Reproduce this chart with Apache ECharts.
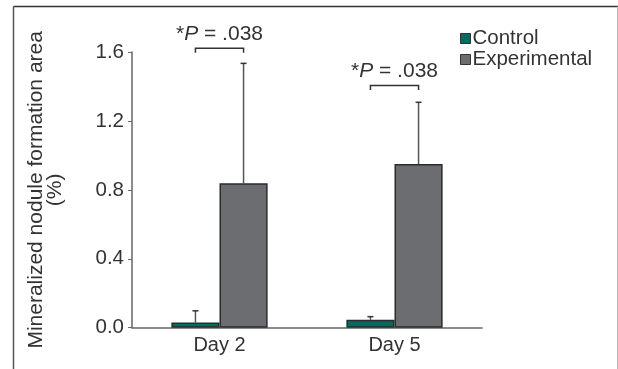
<!DOCTYPE html>
<html>
<head>
<meta charset="utf-8">
<script src="https://cdn.jsdelivr.net/npm/echarts@6/dist/echarts.min.js"></script>
<style>html,body{margin:0;padding:0;background:#fff}#c{width:618px;height:369px}</style>
</head>
<body>
<div id="c"></div>
<script>
const categories = ['Day 2', 'Day 5'];
const seriesNames = ['Control', 'Experimental'];
const controlValues = [0.03, 0.046];
const controlErrors = [0.068, 0.018];
const experimentalValues = [0.838, 0.950];
const experimentalErrors = [0.696, 0.358];
const pLabels = ['*P = .038', '*P = .038'];
const bracketLevels = [1.622, 1.405];
const yTicks = [0, 0.4, 0.8, 1.2, 1.6];

const FONT = '"Liberation Sans", Arial, sans-serif';
const TEXT = '#333333';
const GAP = 0.45; // barCategoryGap

function barHalf(api) {
  const band = api.size([1, 0])[0];
  return band * (1 - GAP) / 2; // width of one bar
}

function errorRender(sign) {
  return function (params, api) {
    const cat = api.value(0), v = api.value(1), e = api.value(2);
    const bw = barHalf(api);
    const c = api.coord([cat, 0]);
    const x = c[0] + sign * bw / 2;
    const yTop = api.coord([cat, v + e])[1];
    const yBase = api.coord([cat, v])[1];
    return {
      type: 'group',
      children: [
        { type: 'line', shape: { x1: x, y1: yBase, x2: x, y2: yTop }, style: { stroke: '#555', lineWidth: 1.5 } },
        { type: 'line', shape: { x1: x - 3, y1: yTop, x2: x + 3, y2: yTop }, style: { stroke: '#333', lineWidth: 1.5 } }
      ]
    };
  };
}

function bracketRender(params, api) {
  const cat = api.value(0), lvl = api.value(1), idx = api.value(2);
  const bw = barHalf(api);
  const c = api.coord([cat, lvl]);
  const x1 = c[0] - bw / 2, x2 = c[0] + bw / 2, y = c[1];
  const lab = pLabels[idx];
  return {
    type: 'group',
    children: [
      { type: 'polyline', shape: { points: [[x1, y + 4.5], [x1, y], [x2, y], [x2, y + 4.5]] }, style: { stroke: '#333', lineWidth: 1.5, fill: null } },
      { type: 'text', x: c[0], y: y - 4, style: {
          text: '{a|' + lab.slice(0, 1) + '}{i|' + lab.slice(1, 2) + '}{a|' + lab.slice(2) + '}',
          align: 'center', verticalAlign: 'bottom',
          rich: {
            a: { fontSize: 21, fontFamily: FONT, fill: TEXT },
            i: { fontSize: 21, fontFamily: FONT, fontStyle: 'italic', fill: TEXT }
          }
        } }
    ]
  };
}

const chart = echarts.init(document.getElementById('c'), null, { renderer: 'canvas' });
chart.setOption({
  animation: false,
  backgroundColor: '#fff',
  graphic: [
    { type: 'line', shape: { x1: 13.5, y1: 6.5, x2: 618, y2: 6.5 }, style: { stroke: '#333', lineWidth: 1.5 } },
    { type: 'line', shape: { x1: 13.5, y1: 6.5, x2: 13.5, y2: 369 }, style: { stroke: '#555', lineWidth: 1.5 } },
    { type: 'line', shape: { x1: 617.5, y1: 6.5, x2: 617.5, y2: 369 }, style: { stroke: '#bbb', lineWidth: 1 } }
  ],
  legend: {
    data: seriesNames,
    orient: 'vertical',
    left: 460,
    top: 28,
    padding: 0,
    itemWidth: 10,
    itemHeight: 10,
    itemGap: 0,
    icon: 'rect',
    itemStyle: { borderColor: '#333', borderWidth: 1 },
    textStyle: { fontSize: 20.5, fontFamily: FONT, color: TEXT, lineHeight: 18, padding: [0, 0, 0, -3] }
  },
  grid: { left: 132, right: 136, top: 52, bottom: 41.3, containLabel: false },
  xAxis: {
    type: 'category',
    data: categories,
    axisLine: { lineStyle: { color: '#666', width: 1.5 } },
    axisTick: { show: false },
    axisLabel: { fontSize: 20, fontFamily: FONT, color: TEXT, margin: 8 }
  },
  yAxis: {
    type: 'value',
    min: 0, max: 1.6, interval: 0.4,
    name: 'Mineralized nodule formation area\n(%)',
    nameLocation: 'middle',
    nameGap: 67.5,
    nameTextStyle: { fontSize: 21, fontFamily: FONT, color: TEXT, lineHeight: 19 },
    splitLine: { show: false },
    axisLine: { show: true, lineStyle: { color: '#666', width: 1.5 } },
    axisTick: { show: true, length: 4, lineStyle: { color: '#666', width: 1 } },
    axisLabel: { fontSize: 20.5, fontFamily: FONT, color: TEXT, margin: 8,
      formatter: v => yTicks.some(t => Math.abs(t - v) < 1e-9) ? v.toFixed(1) : '' }
  },
  series: [
    { name: seriesNames[0], type: 'bar', data: controlValues, barGap: '0%', barCategoryGap: '45%',
      itemStyle: { color: '#006b5f', borderColor: '#2b2b2b', borderWidth: 1.5 }, z: 2 },
    { name: seriesNames[1], type: 'bar', data: experimentalValues, barGap: '0%', barCategoryGap: '45%',
      itemStyle: { color: '#6c6d71', borderColor: '#2b2b2b', borderWidth: 1.5 }, z: 2 },
    { type: 'custom', name: 'errC', renderItem: errorRender(-1), z: 1,
      data: controlValues.map((v, i) => [i, v, controlErrors[i]]) },
    { type: 'custom', name: 'errE', renderItem: errorRender(1), z: 1,
      data: experimentalValues.map((v, i) => [i, v, experimentalErrors[i]]) },
    { type: 'custom', name: 'brackets', renderItem: bracketRender, z: 3, clip: false,
      data: bracketLevels.map((l, i) => [i, l, i]) }
  ]
});
</script>
</body>
</html>
